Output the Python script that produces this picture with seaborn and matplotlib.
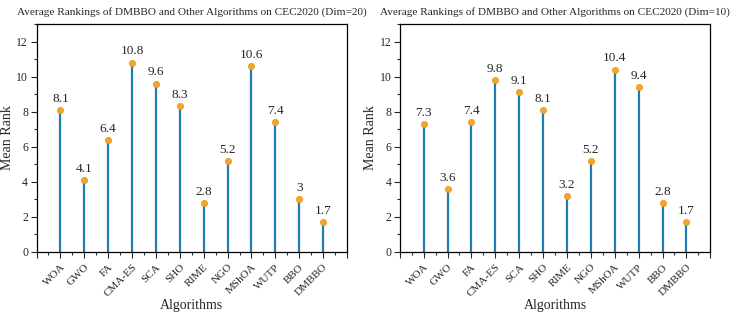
import numpy as np
import pandas as pd
import seaborn as sns
import matplotlib.pyplot as plt
from matplotlib.ticker import MultipleLocator

algorithms = ['WOA', 'GWO', 'FA', 'CMA-ES', 'SCA', 'SHO', 'RIME', 'NGO',
              'MShOA', 'WUTP', 'BBO', 'DMBBO']
rank_dim20 = [8.1, 4.1, 6.4, 10.8, 9.6, 8.3, 2.8, 5.2, 10.6, 7.4, 3.0, 1.7]
rank_dim10 = [7.3, 3.6, 7.4, 9.8, 9.1, 8.1, 3.2, 5.2, 10.4, 9.4, 2.8, 1.7]
titles = ['Average Rankings of DMBBO and Other Algorithms on CEC2020 (Dim=20)',
          'Average Rankings of DMBBO and Other Algorithms on CEC2020 (Dim=10)']

sns.set_style('ticks')
plt.rcParams['font.family'] = ['Liberation Serif', 'DejaVu Serif']

stem_color = '#1f7db3'
dot_color = '#f5a623'

fig, axes = plt.subplots(1, 2, figsize=(7.3, 3.13), dpi=100)

for ax, vals, title in zip(axes, [rank_dim20, rank_dim10], titles):
    df = pd.DataFrame({'pos': np.arange(len(algorithms)), 'rank': vals,
                       'alg': algorithms})
    ax.vlines(df['pos'], 0, df['rank'], color=stem_color, lw=1.6, zorder=2)
    sns.scatterplot(data=df, x='pos', y='rank', ax=ax, color=dot_color,
                    s=20, edgecolor='#e8901a', linewidth=0.5, zorder=3)
    for p, v in zip(df['pos'], df['rank']):
        ax.text(p, v + 0.3, f'{v:g}', ha='center', va='bottom', fontsize=9.5)
    ax.set_xlim(-1, 12)
    ax.set_ylim(0, 13)
    ax.set_xticks(np.arange(-1, 13))
    ax.set_xticklabels([''] + algorithms + [''], rotation=45, ha='right',
                       rotation_mode='anchor', fontsize=8)
    ax.xaxis.set_minor_locator(MultipleLocator(0.5))
    ax.set_yticks(np.arange(0, 13, 2))
    ax.yaxis.set_minor_locator(MultipleLocator(1))
    ax.tick_params(axis='y', labelsize=8.5, pad=2)
    ax.tick_params(which='major', length=4, width=0.8, direction='out')
    ax.tick_params(which='minor', length=2, width=0.8, direction='out')
    for s in ax.spines.values():
        s.set_visible(True)
        s.set_linewidth(0.9)
        s.set_color('black')
    ax.set_xlabel('Algorithms', fontsize=10, labelpad=0)
    ax.set_ylabel('Mean Rank', fontsize=10, labelpad=2)
    ax.set_title(title, fontsize=8.1, pad=7)

plt.subplots_adjust(left=0.05, right=0.973, top=0.923, bottom=0.195, wspace=0.17)
plt.savefig('out.png', dpi=100)
